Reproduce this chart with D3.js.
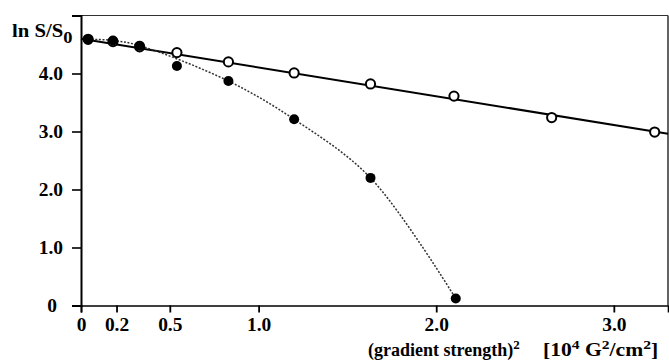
<!DOCTYPE html>
<html>
<head>
<meta charset="utf-8">
<script src="https://cdn.jsdelivr.net/npm/d3@7"></script>
<style>
html,body{margin:0;padding:0;background:#fff;}
svg{display:block;}
text{font-family:"Liberation Serif","Times New Roman",serif;font-weight:bold;fill:#000;}
</style>
</head>
<body>
<svg id="chart" width="669" height="361"></svg>
<script>
// ---- data ----
const openX = [0.04, 0.18, 0.33, 0.54, 0.83, 1.20, 1.63, 2.10, 2.65, 3.23];
const openY = [4.59, 4.55, 4.46, 4.36, 4.20, 4.01, 3.82, 3.61, 3.24, 2.99];
const filledX = [0.04, 0.18, 0.33, 0.54, 0.83, 1.20, 1.63, 2.11];
const filledY = [4.59, 4.57, 4.48, 4.13, 3.87, 3.21, 2.20, 0.12];
const curveOmit = [3]; // filled point lying off the drawn guide curve
const fitIntercept = 4.60;
const fitSlope = -0.496;
const xTickValues = [0, 0.2, 0.5, 1.0, 2.0, 3.0];
const xTickLabels = ["0", "0.2", "0.5", "1.0", "2.0", "3.0"];
const yTickValues = [0, 1, 2, 3, 4];
const yTickLabels = ["0", "1.0", "2.0", "3.0", "4.0"];
const xDomain = [0, 3.305];
const yDomain = [0, 5];

const svg = d3.select("#chart");
const x = d3.scaleLinear().domain(xDomain).range([81, 668]);
const y = d3.scaleLinear().domain(yDomain).range([305.5, 15.5]);

// frame (top & right)
svg.append("line").attr("x1", x(xDomain[0])).attr("x2", x(xDomain[1]))
  .attr("y1", y(yDomain[1])).attr("y2", y(yDomain[1]))
  .attr("stroke", "#333").attr("stroke-width", 1.2);
svg.append("line").attr("x1", x(xDomain[1])).attr("x2", x(xDomain[1]))
  .attr("y1", y(yDomain[1])).attr("y2", y(yDomain[0]))
  .attr("stroke", "#222").attr("stroke-width", 1.4);

const SX = 1.08;
// axes
const xAxis = d3.axisBottom(x).tickValues(xTickValues)
  .tickFormat((d, i) => xTickLabels[i]).tickSizeOuter(0).tickSize(7);
const gx = svg.append("g").attr("transform", `translate(0,${y(0)})`).call(xAxis);
gx.select(".domain").attr("stroke", "#000").attr("stroke-width", 1.6);
gx.selectAll(".tick line").attr("stroke", "#000").attr("stroke-width", 1.8);
gx.selectAll(".tick text").attr("font-size", 18).attr("font-family", null)
  .attr("dy", null).attr("y", 26).attr("transform", `scale(${SX},1)`);

const yAxis = d3.axisLeft(y).tickValues(yTickValues)
  .tickFormat((d, i) => yTickLabels[i]).tickSizeOuter(0).tickSize(9);
const gy = svg.append("g").attr("transform", `translate(${x(0)},0)`).call(yAxis);
gy.select(".domain").attr("stroke", "#000").attr("stroke-width", 2);
gy.selectAll(".tick line").attr("stroke", "#000").attr("stroke-width", 1.6);
gy.selectAll(".tick text").attr("font-size", 18).attr("font-family", null)
  .attr("x", -18 / SX).attr("dy", "0.34em").attr("transform", `scale(${SX},1)`);
gy.selectAll(".tick text").filter((d) => d === 0).attr("x", -24 / SX);

// fit line (open circles)
svg.append("line")
  .attr("x1", x(xDomain[0])).attr("y1", y(fitIntercept + fitSlope * xDomain[0]))
  .attr("x2", x(xDomain[1])).attr("y2", y(fitIntercept + fitSlope * xDomain[1]))
  .attr("stroke", "#000").attr("stroke-width", 2);

// dotted curve (filled circles)
const filledData = filledX.map((v, i) => [v, filledY[i]]);
const curveData = filledData.filter((d, i) => !curveOmit.includes(i));
const curve = d3.line().x(d => x(d[0])).y(d => y(d[1])).curve(d3.curveCatmullRom.alpha(0.5));
svg.append("path").datum(curveData).attr("d", curve)
  .attr("fill", "none").attr("stroke", "#333").attr("stroke-width", 1.5)
  .attr("stroke-dasharray", "2,1.6");

// open circles
const openData = openX.map((v, i) => [v, openY[i]]);
svg.append("g").selectAll("circle").data(openData).join("circle")
  .attr("cx", d => x(d[0])).attr("cy", d => y(d[1])).attr("r", 4.6)
  .attr("fill", "#fff").attr("stroke", "#000").attr("stroke-width", 2);

// filled circles
svg.append("g").selectAll("circle").data(filledData).join("circle")
  .attr("cx", d => x(d[0])).attr("cy", d => y(d[1])).attr("r", 5)
  .attr("fill", "#000");

// y label
const yl = svg.append("text").attr("transform", "translate(12,37) scale(1.15,1)").attr("font-size", 18);
yl.append("tspan").text("ln S/S");
yl.append("tspan").attr("dy", 6).attr("font-size", 16).text("0");

// x labels
const xl = svg.append("text").attr("transform", "translate(368,356)").attr("font-size", 18);
xl.append("tspan").text("(gradient strength)");
xl.append("tspan").attr("dy", -7).attr("font-size", 13).text("2");

const ul = svg.append("text").attr("transform", "translate(543,356) scale(1.2,1)").attr("font-size", 18);
ul.append("tspan").text("[10");
ul.append("tspan").attr("dy", -7).attr("font-size", 13).text("4");
ul.append("tspan").attr("dy", 7).text(" G");
ul.append("tspan").attr("dy", -7).attr("font-size", 13).text("2");
ul.append("tspan").attr("dy", 7).text("/cm");
ul.append("tspan").attr("dy", -7).attr("font-size", 13).text("2");
ul.append("tspan").attr("dy", 7).text("]");
</script>
</body>
</html>
